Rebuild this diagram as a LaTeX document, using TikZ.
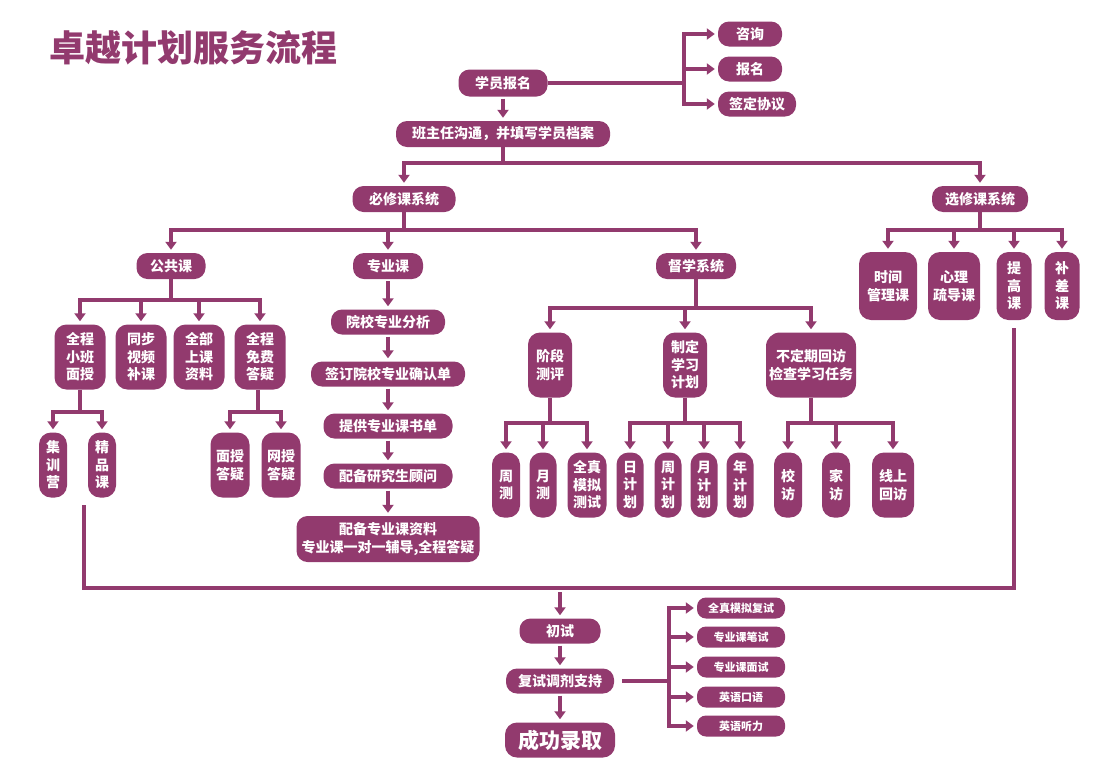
\documentclass[tikz,border=0pt]{standalone}
\usepackage{fontspec}
\setmainfont{Noto Sans CJK SC}
\usepackage{xcolor}
\definecolor{plum}{HTML}{923A6E}
\usetikzlibrary{arrows.meta,calc}

\begin{document}
\begin{tikzpicture}[
		x=1pt, y=-1pt,
		box/.style={fill=plum, text=white, rounded corners=11pt, inner sep=0pt, align=center,
			font=\bfseries\fontsize{14}{17.5}\selectfont},
		tall/.style={box, rounded corners=12pt, minimum height=65pt},
		small/.style={box, minimum width=88pt, minimum height=21pt, rounded corners=9pt,
			font=\bfseries\fontsize{11}{13}\selectfont},
		link/.style={draw=plum, line width=3.5pt},
		arr/.style={link, -{Triangle[width=11pt,length=8pt]}, shorten >=3pt},
	]
		\useasboundingbox (0,0) rectangle (1102,766);

		\node[text=plum, font=\bfseries\fontsize{36}{40}\selectfont] (title) at (193,48) {卓越计划服务流程};

		\node[box, minimum width=89pt, minimum height=27pt] (xybm) at (503,83) {学员报名};
		\node[box, minimum width=64pt, minimum height=25pt] (zixun) at (750,34) {咨询};
		\node[box, minimum width=64pt, minimum height=25pt] (baoming) at (750,69) {报名};
		\node[box, minimum width=78pt, minimum height=25pt] (xieyi) at (757,104) {签定协议};
		\node[box, minimum width=214pt, minimum height=26pt] (bzr) at (503,134) {班主任沟通，并填写学员档案};

		\node[box, minimum width=103pt, minimum height=26pt] (bixiu) at (404,199) {必修课系统};
		\node[box, minimum width=96pt, minimum height=26pt] (xuanxiu) at (980,199) {选修课系统};

		\node[box, minimum width=69pt, minimum height=26pt] (gonggong) at (171,266) {公共课};
		\node[box, minimum width=70pt, minimum height=26pt] (zhuanye) at (388,266) {专业课};
		\node[box, minimum width=80pt, minimum height=26pt] (duxue) at (696,266) {督学系统};

		\node[tall, minimum width=58pt, minimum height=68pt] (shijian) at (888,286) {时间\\管理课};
		\node[tall, minimum width=52pt, minimum height=68pt] (xinli) at (954,286) {心理\\疏导课};
		\node[tall, minimum width=35pt, minimum height=68pt] (tigao) at (1014,286) {提\\高\\课};
		\node[tall, minimum width=35pt, minimum height=68pt] (buchai) at (1062,286) {补\\差\\课};

		\node[tall, minimum width=51pt] (xiaoban) at (80,357) {全程\\小班\\面授};
		\node[tall, minimum width=51pt] (tongbu) at (141,357) {同步\\视频\\补课};
		\node[tall, minimum width=51pt] (ziliao) at (199,357) {全部\\上课\\资料};
		\node[tall, minimum width=51pt] (dayi) at (260,357) {全程\\免费\\答疑};

		\node[tall, minimum width=28pt] (jixun) at (53,465) {集\\训\\营};
		\node[tall, minimum width=28pt] (jingpin) at (102,465) {精\\品\\课};
		\node[tall, minimum width=39pt] (mianshou) at (230,465) {面授\\答疑};
		\node[tall, minimum width=39pt] (wangshou) at (281,465) {网授\\答疑};

		\node[box, minimum width=114pt, minimum height=25pt] (fenxi) at (388,322) {院校专业分析};
		\node[box, minimum width=154pt, minimum height=25pt] (queren) at (388,374) {签订院校专业确认单};
		\node[box, minimum width=129pt, minimum height=25pt] (shudan) at (388,426) {提供专业课书单};
		\node[box, minimum width=129pt, minimum height=25pt] (guwen) at (388,476) {配备研究生顾问};
		\node[box, minimum width=183pt, minimum height=46pt] (fudao) at (388,539) {配备专业课资料\\专业课一对一辅导,全程答疑};

		\node[tall, minimum width=44pt] (jieduan) at (550,365) {阶段\\测评};
		\node[tall, minimum width=44pt] (zhiding) at (685,365) {制定\\学习\\计划};
		\node[tall, minimum width=90pt, rounded corners=14pt] (huifang) at (811,365) {不定期回访\\检查学习任务};

		\node[tall, minimum width=28pt] (zhouce) at (506,485) {周\\测};
		\node[tall, minimum width=27pt] (yuece) at (543,485) {月\\测};
		\node[tall, minimum width=39pt] (moni) at (587,485) {全真\\模拟\\测试};
		\node[tall, minimum width=27pt] (ri) at (630,485) {日\\计\\划};
		\node[tall, minimum width=27pt] (zhou) at (668,485) {周\\计\\划};
		\node[tall, minimum width=27pt] (yue) at (704,485) {月\\计\\划};
		\node[tall, minimum width=27pt] (nian) at (740,485) {年\\计\\划};
		\node[tall, minimum width=28pt] (xiaofang) at (788,485) {校\\访};
		\node[tall, minimum width=28pt] (jiafang) at (836,485) {家\\访};
		\node[tall, minimum width=42pt] (xianshang) at (893,485) {线上\\回访};

		\node[box, minimum width=81pt, minimum height=25pt] (chushi) at (560,631) {初试};
		\node[box, minimum width=108pt, minimum height=25pt] (fushi) at (560,681) {复试调剂支持};
		\node[box, minimum width=110pt, minimum height=35pt, rounded corners=12pt,
			font=\bfseries\fontsize{21}{24}\selectfont] (luqu) at (560,740) {成功录取};

		\node[small] (fsmoni) at (741,608) {全真模拟复试};
		\node[small] (bishi) at (741,637) {专业课笔试};
		\node[small] (mianshi) at (741,667) {专业课面试};
		\node[small] (kouyu) at (741,697) {英语口语};
		\node[small] (tingli) at (741,726) {英语听力};

		\coordinate (xyj) at (684,83);
		\coordinate (bzrj) at (503,163);
		\coordinate (bxj) at (404,230);
		\coordinate (xxj) at (980,230);
		\coordinate (ggj) at (171,300);
		\coordinate (dxj) at (696,308);
		\coordinate (xbj) at (80,412);
		\coordinate (dyj) at (258,412);
		\coordinate (jdj) at (550,423);
		\coordinate (zdj) at (685,423);
		\coordinate (hfj) at (811,423);
		\coordinate (loopstart) at (84,505);
		\coordinate (loopl) at (84,588);
		\coordinate (fsj) at (669,681);

		\draw[link] (xybm) -- (xyj);
		\foreach \nm in {zixun,baoming,xieyi}
			\draw[arr] (xyj) |- (\nm.west);
		\draw[arr, shorten <=2pt] (xybm) -- (bzr);

		\draw[link] (bzr) -- (bzrj);
		\foreach \nm in {bixiu,xuanxiu}
			\draw[arr] (bzrj) -| (\nm.north);

		\draw[link] (bixiu) -- (bxj);
		\foreach \nm in {gonggong,zhuanye,duxue}
			\draw[arr] (bxj) -| (\nm.north);

		\draw[link] (xuanxiu) -- (xxj);
		\foreach \nm in {shijian,xinli,tigao,buchai}
			\draw[arr] (xxj) -| (\nm.north);

		\draw[link] (gonggong) -- (ggj);
		\foreach \nm in {xiaoban,tongbu,ziliao,dayi}
			\draw[arr] (ggj) -| (\nm.north);

		\draw[link] (xiaoban) -- (xbj);
		\foreach \nm in {jixun,jingpin}
			\draw[arr] (xbj) -| (\nm.north);

		\draw[link] (dayi.south -| dyj) -- (dyj);
		\foreach \nm in {mianshou,wangshou}
			\draw[arr] (dyj) -| (\nm.north);

		\draw[arr, shorten <=2pt] (zhuanye) -- (fenxi);
		\draw[arr, shorten <=2pt] (fenxi) -- (queren);
		\draw[arr, shorten <=2pt] (queren) -- (shudan);
		\draw[arr, shorten <=2pt] (shudan) -- (guwen);
		\draw[arr, shorten <=2pt] (guwen) -- (fudao);

		\draw[link] (duxue) -- (dxj);
		\foreach \nm in {jieduan,zhiding,huifang}
			\draw[arr] (dxj) -| (\nm.north);

		\draw[link] (jieduan) -- (jdj);
		\foreach \nm in {zhouce,yuece,moni}
			\draw[arr] (jdj) -| (\nm.north);

		\draw[link] (zhiding) -- (zdj);
		\foreach \nm in {ri,zhou,yue,nian}
			\draw[arr] (zdj) -| (\nm.north);

		\draw[link] (huifang) -- (hfj);
		\foreach \nm in {xiaofang,jiafang,xianshang}
			\draw[arr] (hfj) -| (\nm.north);

		\draw[link] (loopstart) -- (loopl) -- (loopl -| tigao.south) -- ([yshift=-8pt]tigao.south);
		\draw[arr, shorten <=4pt] (loopl -| chushi.north) -- (chushi.north);

		\draw[arr, shorten <=2pt] (chushi) -- (fushi);
		\draw[arr, shorten <=2pt] (fushi) -- (luqu);

		\draw[link, shorten <=8pt] (fushi) -- (fsj);
		\foreach \nm in {fsmoni,bishi,mianshi,kouyu,tingli}
			\draw[arr] (fsj) |- (\nm.west);
	\end{tikzpicture}
\end{document}
